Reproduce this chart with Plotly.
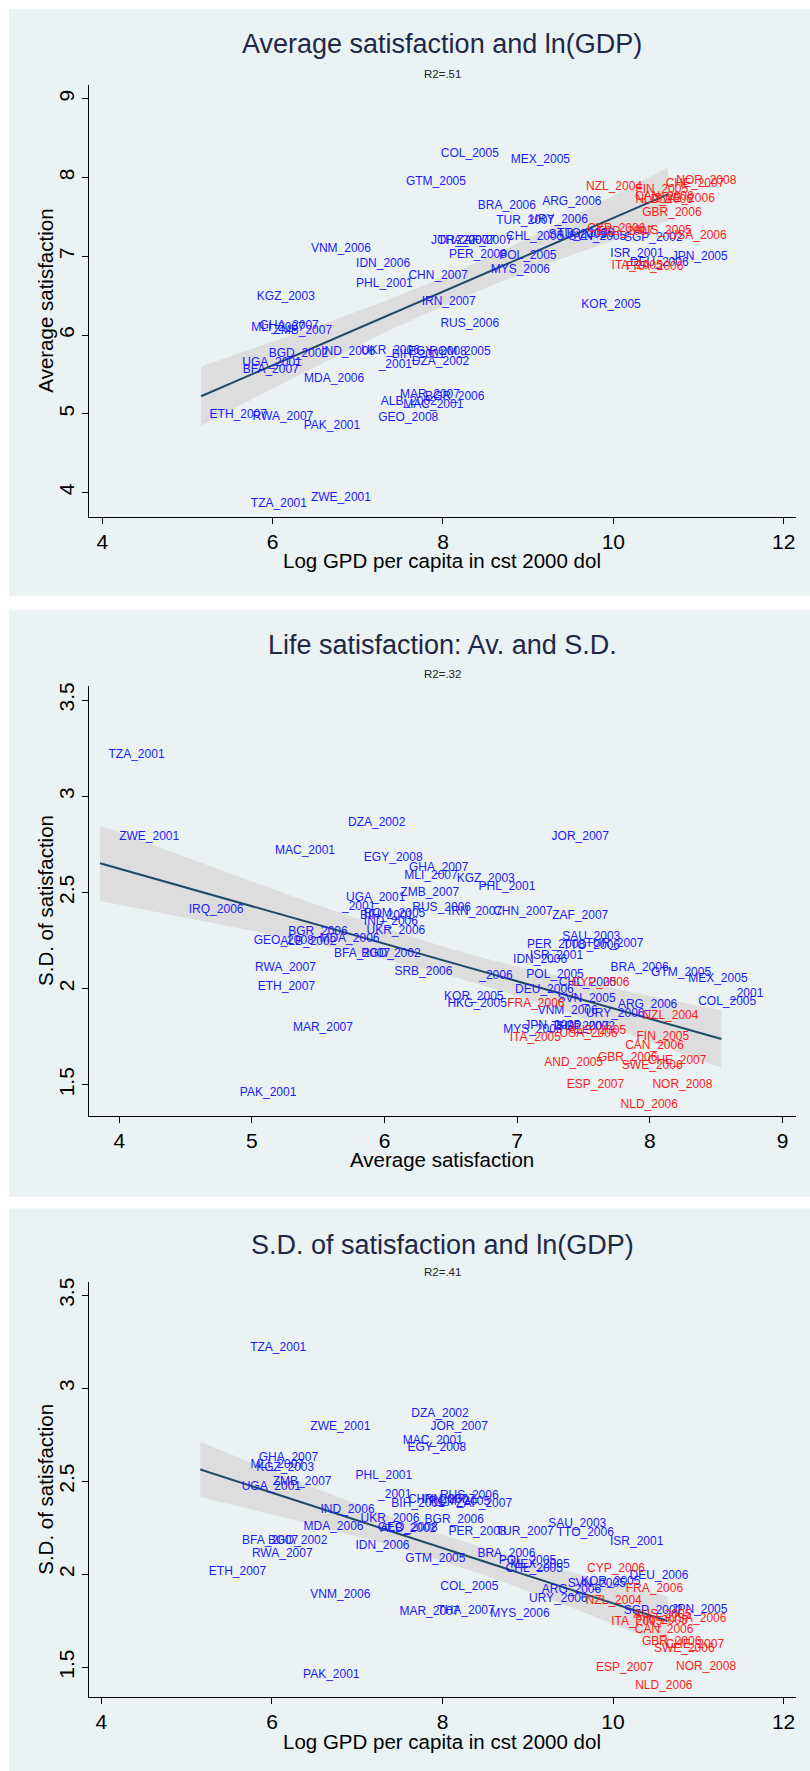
import numpy as np
import plotly.graph_objects as go

# country-year labels, log GDP, mean and s.d. of life satisfaction
countries = [
    "TZA_2001", "ZWE_2001", "DZA_2002", "JOR_2007", "MAC_2001", "EGY_2008",
    "GHA_2007", "MLI_2007", "KGZ_2003", "PHL_2001", "ZMB_2007", "UGA_2001",
    "_2001", "IRQ_2006", "RUS_2006", "IRN_2007", "CHN_2007", "ZAF_2007",
    "BIH_2001", "ROM_2005", "IND_2006", "UKR_2006", "BGR_2006", "GEO_2008",
    "ALB_2002", "MDA_2006", "BFA_2007", "BGD_2002", "RWA_2007", "SRB_2006",
    "ETH_2007", "SAU_2003", "PER_2008", "TTO_2006", "TUR_2007", "ISR_2001",
    "IDN_2006", "BRA_2006", "GTM_2005", "MEX_2005", "_2006", "POL_2005",
    "CHL_2005", "CYP_2006", "DEU_2006", "KOR_2005", "HKG_2005", "FRA_2006",
    "SVN_2005", "ARG_2006", "_2001", "COL_2005", "VNM_2006", "URY_2006",
    "NZL_2004", "MAR_2007", "MYS_2006", "JPN_2005", "THA_2007", "SGP_2002",
    "AUS_2005", "ITA_2005", "USA_2006", "FIN_2005", "CAN_2006", "AND_2005",
    "GBR_2006", "SWE_2006", "CHE_2007", "ESP_2007", "NOR_2008", "NLD_2006",
    "PAK_2001",
]
lngdp = [
    5.645, 6.35, 7.535, 7.76, 7.435, 7.49,
    5.745, 5.65, 5.715, 6.88, 5.91, 5.545,
    7.145, None, 7.87, 7.65, 7.495, 8.06,
    7.30, 7.74, 6.47, 6.94, 7.69, 7.14,
    7.17, 6.27, 5.55, 5.855, 5.665, None,
    5.16, 9.14, 7.97, 9.24, 8.525, 9.865,
    6.88, 8.31, 7.465, 8.695, None, 8.56,
    8.64, 9.595, 10.095, 9.525, None, 10.05,
    9.37, 9.065, None, 7.875, 6.35, 8.915,
    9.58, 7.395, 8.46, 10.585, 7.84, 10.025,
    10.14, 9.88, 10.55, 10.16, 10.155, None,
    10.24, 10.38, 10.515, 9.70, 10.64, 10.16,
    6.265,
]
avg_sat = [
    3.855, 3.935, 5.66, 7.195, 5.11, 5.78,
    6.12, 6.085, 6.48, 6.645, 6.055, 5.645,
    5.615, 4.46, 6.145, 6.415, 6.755, 7.20,
    5.75, 5.78, 5.78, 5.80, 5.21, 4.95,
    5.15, 5.445, 5.555, 5.76, 4.96, 6.01,
    4.98, 7.275, 7.01, 7.28, 7.45, 7.03,
    6.905, 7.64, 7.945, 8.225, 6.65, 7.005,
    7.25, 7.345, 6.92, 6.385, 6.41, 6.86,
    7.24, 7.695, 8.54, 8.30, 7.09, 7.455,
    7.88, 5.245, 6.83, 6.99, 7.195, 7.23,
    7.32, 6.88, 7.255, 7.835, 7.75, 7.14,
    7.545, 7.725, 7.92, 7.31, 7.955, 7.715,
    4.845,
]
sd_sat = [
    3.215, 2.79, 2.86, 2.79, 2.715, 2.68,
    2.627, 2.588, 2.571, 2.53, 2.495, 2.472,
    2.424, 2.41, 2.419, 2.40, 2.40, 2.377,
    2.38, 2.39, 2.346, 2.30, 2.292, 2.25,
    2.242, 2.257, 2.178, 2.178, 2.109, 2.085,
    2.01, 2.268, 2.226, 2.222, 2.23, 2.172,
    2.15, 2.109, 2.082, 2.051, 2.068, 2.073,
    2.03, 2.028, 1.992, 1.956, 1.921, 1.921,
    1.948, 1.916, 1.97, 1.932, 1.886, 1.867,
    1.856, 1.797, 1.785, 1.808, 1.80, 1.80,
    1.78, 1.746, 1.762, 1.749, 1.702, 1.614,
    1.638, 1.598, 1.622, 1.498, 1.499, 1.397,
    1.456,
]
# 1 = shown in red
red_group = [
    0, 0, 0, 0, 0, 0, 0, 0, 0, 0, 0, 0,
    0, 0, 0, 0, 0, 0, 0, 0, 0, 0, 0, 0,
    0, 0, 0, 0, 0, 0, 0, 0, 0, 0, 0, 0,
    0, 0, 0, 0, 0, 0, 0, 1, 0, 0, 0, 1,
    0, 0, 0, 0, 0, 0, 1, 0, 0, 0, 0, 0,
    1, 1, 1, 1, 1, 1, 1, 1, 1, 1, 1, 1,
    0,
]

BLUE = "#1a1aff"
RED = "#ff1a1a"
PANEL_BG = "#eaf2f3"
LINE_COL = "#1f4a66"
BAND_COL = "#dddddd"
FONT = "Arial, Liberation Sans, sans-serif"
W, H = 810, 1771

columns = {"lngdp": lngdp, "avg": avg_sat, "sd": sd_sat}

panels = [
    dict(title="Average satisfaction and ln(GDP)", r2="R2=.51",
         xcol="lngdp", ycol="avg", top=80, bottom=513, bg=(4, 593),
         title_y=39, r2_y=69, xtitle_y=557,
         xrange=[3.843, 12.139], yrange=[3.696, 9.177],
         xticks=[4, 6, 8, 10, 12], yticks=[4, 5, 6, 7, 8, 9],
         xtitle="Log GPD per capita in cst 2000 dol", ytitle="Average satisfaction"),
    dict(title="Life satisfaction: Av. and S.D.", r2="R2=.32",
         xcol="avg", ycol="sd", top=683, bottom=1114, bg=(607, 1195),
         title_y=642, r2_y=671, xtitle_y=1158,
         xrange=[3.771, 9.098], yrange=[1.339, 3.5725],
         xticks=[4, 5, 6, 7, 8, 9], yticks=[1.5, 2, 2.5, 3, 3.5],
         xtitle="Average satisfaction", ytitle="S.D. of satisfaction"),
    dict(title="S.D. of satisfaction and ln(GDP)", r2="R2=.41",
         xcol="lngdp", ycol="sd", top=1281, bottom=1697, bg=(1207, 1771),
         title_y=1244, r2_y=1271, xtitle_y=1741,
         xrange=[3.853, 12.14], yrange=[1.339, 3.57],
         xticks=[4, 6, 8, 10, 12], yticks=[1.5, 2, 2.5, 3, 3.5],
         xtitle="Log GPD per capita in cst 2000 dol", ytitle="S.D. of satisfaction"),
]

PLOT_L, PLOT_R = 88.9, 795.5
YTITLE_X = 46


def fit_band(x, y):
    x = np.asarray(x, float)
    y = np.asarray(y, float)
    n = len(x)
    b, a = np.polyfit(x, y, 1)
    xs = np.linspace(x.min(), x.max(), 80)
    yhat = a + b * xs
    resid = y - (a + b * x)
    s = np.sqrt((resid ** 2).sum() / (n - 2))
    sxx = ((x - x.mean()) ** 2).sum()
    se = s * np.sqrt(1.0 / n + (xs - x.mean()) ** 2 / sxx)
    t = 1.995
    return xs, yhat, yhat - t * se, yhat + t * se


fig = go.Figure()
shapes = []
annotations = []
mid_x = (PLOT_L + PLOT_R) / 2 / W

for i, p in enumerate(panels, start=1):
    xa = "x" if i == 1 else f"x{i}"
    ya = "y" if i == 1 else f"y{i}"
    xs_all = columns[p["xcol"]]
    ys_all = columns[p["ycol"]]
    pairs = [(a, b) for a, b in zip(xs_all, ys_all) if a is not None and b is not None]
    px_, py_ = zip(*pairs)
    xs, yhat, lo, hi = fit_band(px_, py_)

    fig.add_trace(go.Scatter(
        x=np.concatenate([xs, xs[::-1]]), y=np.concatenate([hi, lo[::-1]]),
        fill="toself", fillcolor=BAND_COL, line=dict(width=0), mode="lines",
        hoverinfo="skip", showlegend=False, xaxis=xa, yaxis=ya))
    fig.add_trace(go.Scatter(
        x=xs, y=yhat, mode="lines", line=dict(color=LINE_COL, width=2),
        hoverinfo="skip", showlegend=False, xaxis=xa, yaxis=ya))

    for grp, col in ((0, BLUE), (1, RED)):
        sel = [k for k in range(len(countries))
               if red_group[k] == grp and xs_all[k] is not None and ys_all[k] is not None]
        fig.add_trace(go.Scatter(
            x=[xs_all[k] for k in sel], y=[ys_all[k] for k in sel],
            text=[countries[k] for k in sel],
            mode="markers+text", textposition="middle right",
            marker=dict(size=12, opacity=0),
            textfont=dict(family=FONT, size=12, color=col),
            hoverinfo="text", showlegend=False, xaxis=xa, yaxis=ya))

    dom_y = [1 - p["bottom"] / H, 1 - p["top"] / H]
    fig.update_layout(**{
        ("xaxis" if i == 1 else f"xaxis{i}"): dict(
            domain=[PLOT_L / W, PLOT_R / W], range=p["xrange"], anchor=ya,
            tickvals=p["xticks"], showgrid=False, zeroline=False,
            showline=True, linecolor="black", linewidth=1,
            ticks="outside", ticklen=6, tickcolor="black",
            tickfont=dict(family=FONT, size=21, color="black")),
        ("yaxis" if i == 1 else f"yaxis{i}"): dict(
            domain=dom_y, range=p["yrange"], anchor=xa,
            tickvals=p["yticks"], tickangle=-90,
            showgrid=True, gridcolor=PANEL_BG, gridwidth=2, zeroline=False,
            showline=True, linecolor="black", linewidth=1,
            ticks="outside", ticklen=6, tickcolor="black",
            tickfont=dict(family=FONT, size=21, color="black")),
    })

    shapes.append(dict(type="rect", xref="paper", yref="paper", layer="below",
                       x0=9 / W, x1=1, y0=1 - p["bg"][1] / H, y1=1 - p["bg"][0] / H,
                       fillcolor=PANEL_BG, line=dict(width=0)))
    annotations.append(dict(text=p["title"], xref="paper", yref="paper",
                            x=mid_x, y=1 - p["title_y"] / H,
                            xanchor="center", yanchor="middle", showarrow=False,
                            font=dict(family=FONT, size=27, color="#1e2847")))
    annotations.append(dict(text=p["r2"], xref="paper", yref="paper",
                            x=mid_x, y=1 - p["r2_y"] / H,
                            xanchor="center", yanchor="middle", showarrow=False,
                            font=dict(family=FONT, size=11.5, color="#222222")))
    annotations.append(dict(text=p["xtitle"], xref="paper", yref="paper",
                            x=mid_x, y=1 - p["xtitle_y"] / H,
                            xanchor="center", yanchor="middle", showarrow=False,
                            font=dict(family=FONT, size=20.5, color="black")))
    annotations.append(dict(text=p["ytitle"], xref="paper", yref="paper",
                            x=YTITLE_X / W, y=(dom_y[0] + dom_y[1]) / 2, textangle=-90,
                            xanchor="center", yanchor="middle", showarrow=False,
                            font=dict(family=FONT, size=20.5, color="black")))

fig.update_layout(
    width=W, height=H,
    margin=dict(l=0, r=0, t=0, b=0),
    paper_bgcolor="white", plot_bgcolor="white",
    shapes=shapes, annotations=annotations,
    showlegend=False,
)

# drop the browser's default body margin so the figure sits at the page origin
fig.write_html("out.html", config={"displayModeBar": False},
               post_script="document.body.style.margin='0';")
